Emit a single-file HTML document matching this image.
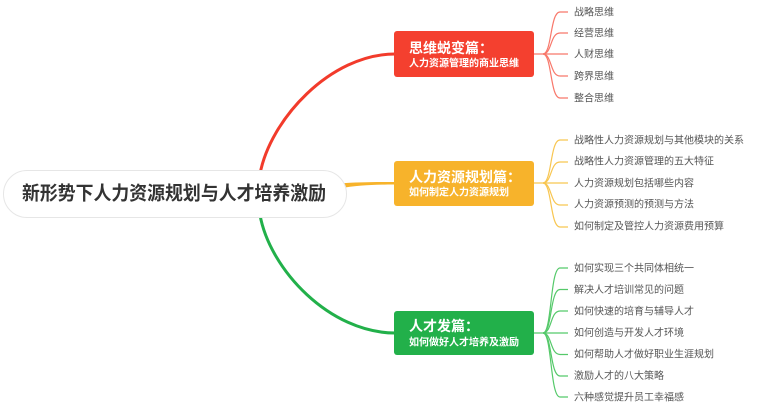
<!DOCTYPE html>
<html><head><meta charset="utf-8">
<style>
html,body{margin:0;padding:0;background:#fff;width:766px;height:412px;overflow:hidden;}
svg{display:block;}
text{font-family:"Liberation Sans","Noto Sans CJK SC",sans-serif;}
.leaf{font-size:10px;fill:#555;}
.t{font-size:14px;font-weight:bold;fill:#fff;}
.s{font-size:10px;font-weight:bold;fill:#fff;}
</style></head>
<body>
<svg width="766" height="412" viewBox="0 0 766 412" xmlns="http://www.w3.org/2000/svg">
<!-- main connectors -->
<path d="M260,174 C270,120 330,54 395,54" fill="none" stroke="#f23b2b" stroke-width="3"/>
<path d="M260,215 C270,270 330,333 395,333" fill="none" stroke="#22b04a" stroke-width="3"/>
<path d="M338,183.5 C360,182 375,182 395,182 L395,184.5 C375,184.5 360,185 338,188.5 Z" fill="#f7b32b"/>

<!-- root -->
<rect x="3.5" y="170.5" width="343" height="47" rx="23.5" fill="#fff" stroke="#e6e6e6" stroke-width="1"/>
<text x="22" y="194" dominant-baseline="central" font-size="19" font-weight="bold" fill="#333" textLength="304" lengthAdjust="spacingAndGlyphs">新形势下人力资源规划与人才培养激励</text>

<!-- red box -->
<rect x="394" y="31" width="140" height="46" rx="3" fill="#f4402f"/>
<text class="t" x="409" y="48" dominant-baseline="central">思维蜕变篇：</text>
<text class="s" x="409" y="64" dominant-baseline="central">人力资源管理的商业思维</text>
<g fill="none" stroke="#f8786b" stroke-width="1.2">
<path d="M534,54 L568,54"/>
<path d="M543,54 C552,54 550,12 560,12 L568,12"/>
<path d="M543,54 C552,54 550,33 560,33 L568,33"/>
<path d="M543,54 C552,54 550,76 560,76 L568,76"/>
<path d="M543,54 C552,54 550,98 560,98 L568,98"/>
</g>
<text class="leaf" x="574" y="13" dominant-baseline="central">战略思维</text>
<text class="leaf" x="574" y="34" dominant-baseline="central">经营思维</text>
<text class="leaf" x="574" y="55" dominant-baseline="central">人财思维</text>
<text class="leaf" x="574" y="77" dominant-baseline="central">跨界思维</text>
<text class="leaf" x="574" y="99" dominant-baseline="central">整合思维</text>

<!-- orange box -->
<rect x="394" y="161" width="140" height="45" rx="3" fill="#f7b32b"/>
<text class="t" x="409" y="177" dominant-baseline="central">人力资源规划篇：</text>
<text class="s" x="409" y="193" dominant-baseline="central">如何制定人力资源规划</text>
<g fill="none" stroke="#f8c651" stroke-width="1.2">
<path d="M534,183 L568,183"/>
<path d="M543,183 C552,183 550,140 560,140 L568,140"/>
<path d="M543,183 C552,183 550,162 560,162 L568,162"/>
<path d="M543,183 C552,183 550,205 560,205 L568,205"/>
<path d="M543,183 C552,183 550,227 560,227 L568,227"/>
</g>
<text class="leaf" x="574" y="141" dominant-baseline="central">战略性人力资源规划与其他模块的关系</text>
<text class="leaf" x="574" y="162" dominant-baseline="central">战略性人力资源管理的五大特征</text>
<text class="leaf" x="574" y="184" dominant-baseline="central">人力资源规划包括哪些内容</text>
<text class="leaf" x="574" y="205" dominant-baseline="central">人力资源预测的预测与方法</text>
<text class="leaf" x="574" y="227" dominant-baseline="central">如何制定及管控人力资源费用预算</text>

<!-- green box -->
<rect x="394" y="311" width="140" height="44" rx="3" fill="#22b04a"/>
<text class="t" x="409" y="326" dominant-baseline="central">人才发篇：</text>
<text class="s" x="409" y="343" dominant-baseline="central">如何做好人才培养及激励</text>
<g fill="none" stroke="#55c96a" stroke-width="1.2">
<path d="M534,333 L568,333"/>
<path d="M543,333 C552,333 550,268 560,268 L568,268"/>
<path d="M543,333 C552,333 550,289.5 560,289.5 L568,289.5"/>
<path d="M543,333 C552,333 550,311 560,311 L568,311"/>
<path d="M543,333 C552,333 550,354.5 560,354.5 L568,354.5"/>
<path d="M543,333 C552,333 550,376 560,376 L568,376"/>
<path d="M543,333 C552,333 550,397 560,397 L568,397"/>
</g>
<text class="leaf" x="574" y="269" dominant-baseline="central">如何实现三个共同体相统一</text>
<text class="leaf" x="574" y="290.5" dominant-baseline="central">解决人才培训常见的问题</text>
<text class="leaf" x="574" y="312" dominant-baseline="central">如何快速的培育与辅导人才</text>
<text class="leaf" x="574" y="333.5" dominant-baseline="central">如何创造与开发人才环境</text>
<text class="leaf" x="574" y="355" dominant-baseline="central">如何帮助人才做好职业生涯规划</text>
<text class="leaf" x="574" y="376.5" dominant-baseline="central">激励人才的八大策略</text>
<text class="leaf" x="574" y="398" dominant-baseline="central">六种感觉提升员工幸福感</text>
</svg>
</body></html>
